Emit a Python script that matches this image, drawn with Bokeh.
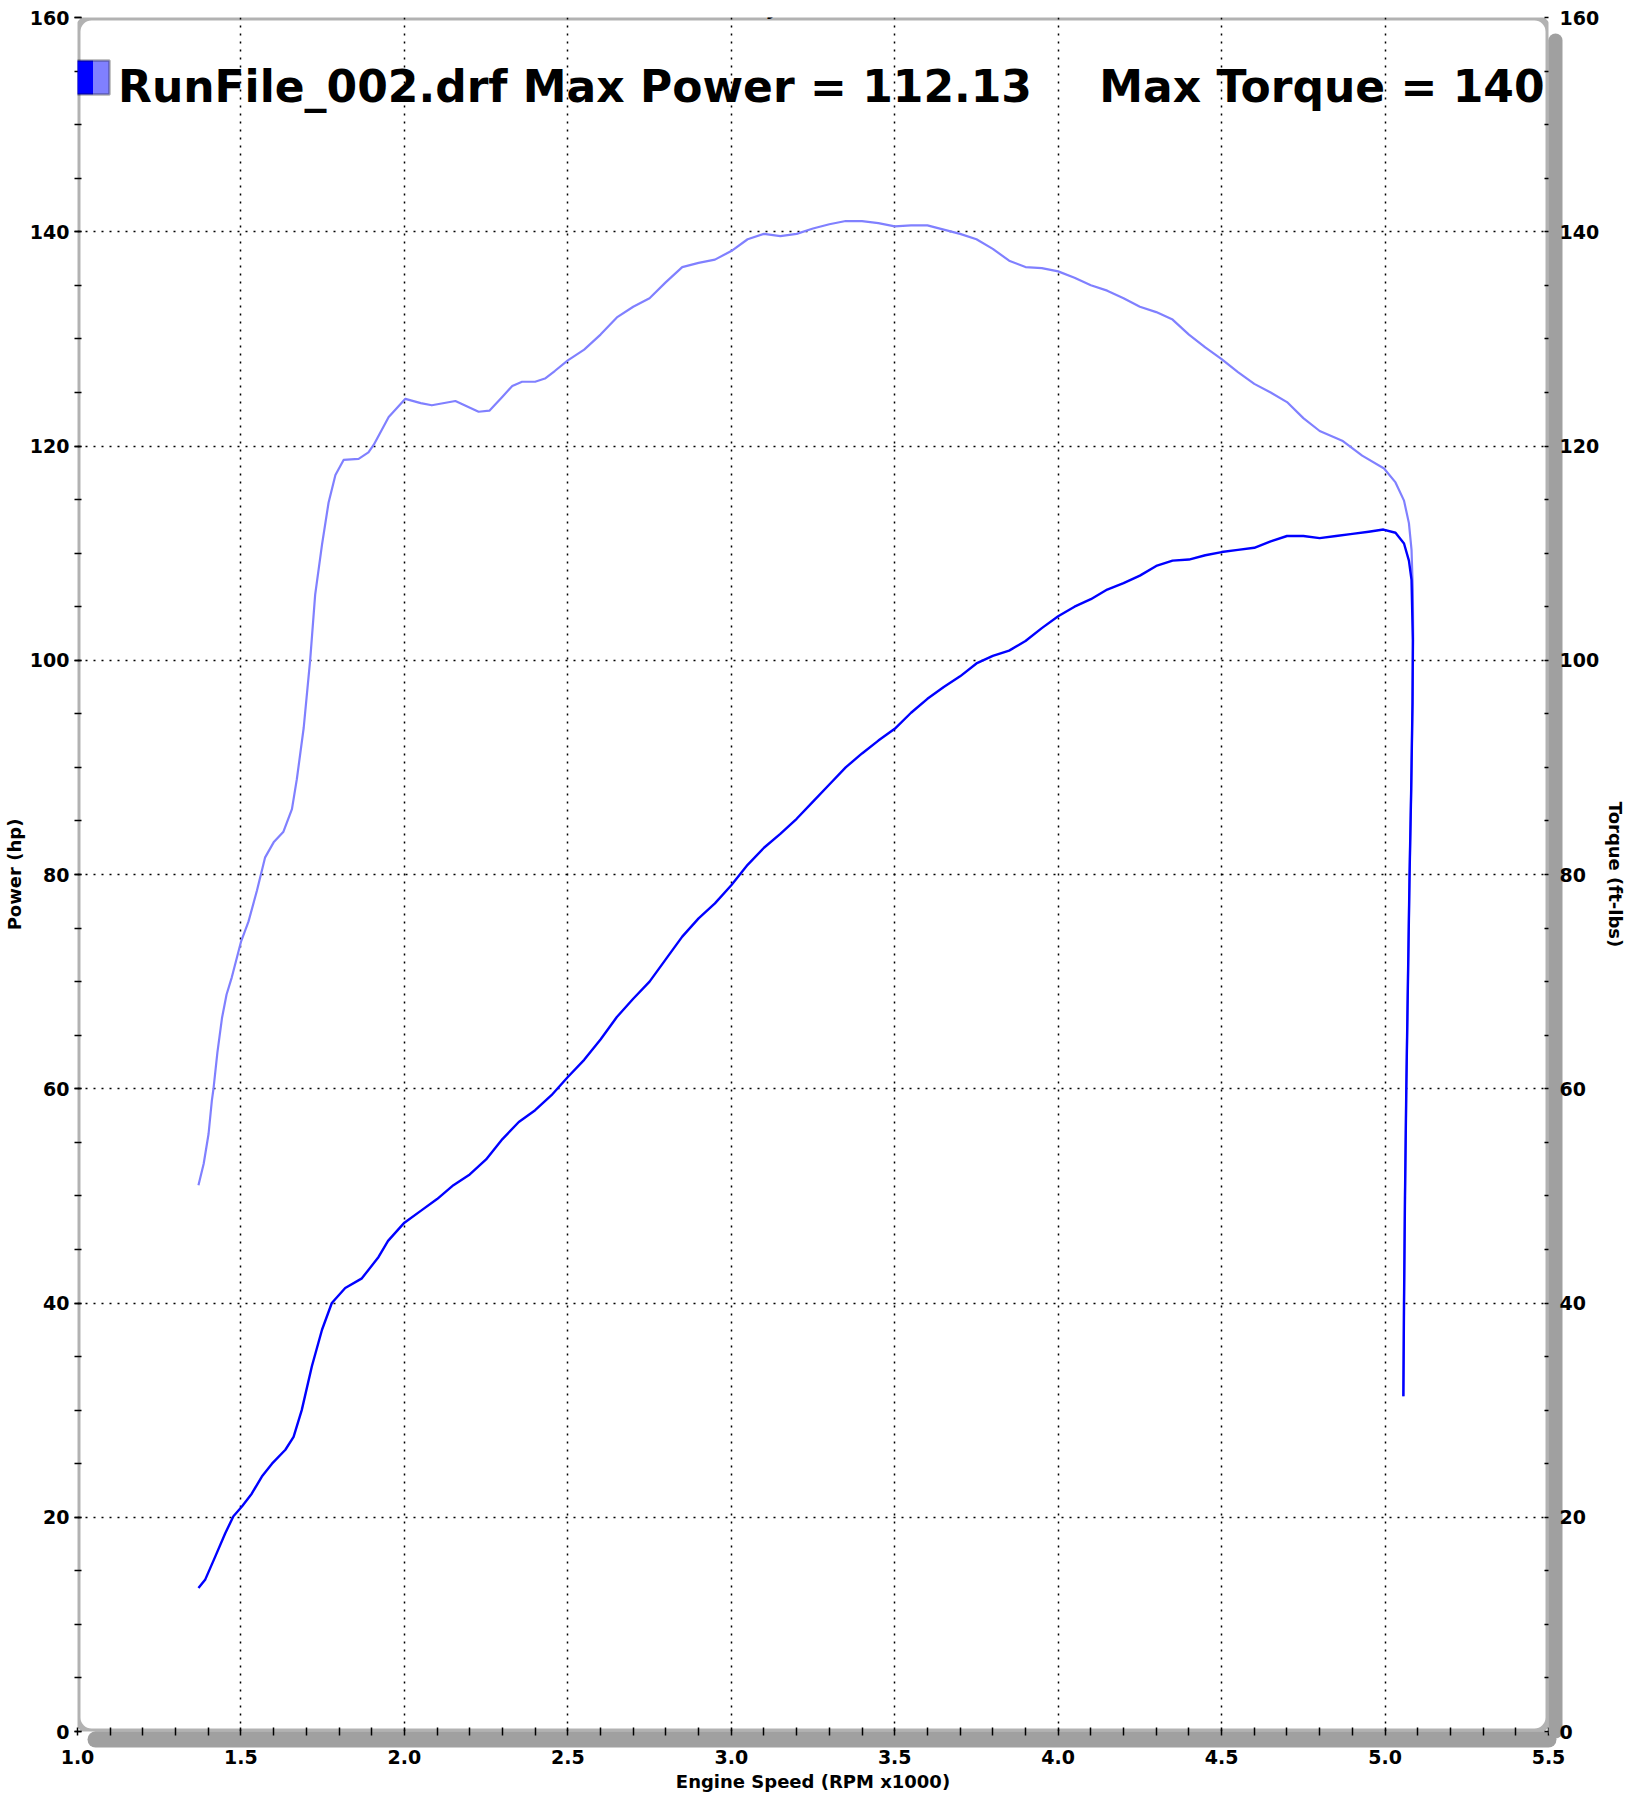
from bokeh.plotting import figure
from bokeh.models import (Range1d, LinearAxis, BoxAnnotation, Label,
                          SingleIntervalTicker, FixedTicker, PrintfTickFormatter,
                          CustomJSTickFormatter)
from bokeh.embed import file_html
from bokeh.resources import INLINE

# ---------------- data ----------------
rpm_power = [1.370, 1.391, 1.421, 1.452, 1.477, 1.503, 1.533, 1.564, 1.595, 1.636,
             1.661, 1.686, 1.717, 1.748, 1.778, 1.819, 1.870, 1.921, 1.950, 2.000,
             2.050, 2.100, 2.150, 2.200, 2.250, 2.300, 2.350, 2.400, 2.450, 2.500,
             2.550, 2.600, 2.650, 2.700, 2.750, 2.800, 2.850, 2.900, 2.950, 3.000,
             3.050, 3.100, 3.150, 3.200, 3.250, 3.300, 3.350, 3.400, 3.450, 3.500,
             3.550, 3.600, 3.650, 3.700, 3.750, 3.800, 3.850, 3.900, 3.950, 4.000,
             4.050, 4.100, 4.150, 4.200, 4.250, 4.300, 4.350, 4.400, 4.450, 4.500,
             4.550, 4.600, 4.650, 4.700, 4.750, 4.800, 4.850, 4.900, 4.950, 4.995,
             5.032, 5.058, 5.073, 5.081, 5.085, 5.084, 5.080, 5.075, 5.070, 5.065,
             5.061, 5.058, 5.056]
power_hp = [13.4, 14.2, 16.3, 18.5, 20.1, 21.0, 22.2, 23.8, 25.0, 26.3,
            27.5, 30.0, 34.1, 37.5, 40.0, 41.4, 42.3, 44.3, 45.8, 47.5,
            48.6, 49.7, 51.0, 52.0, 53.4, 55.3, 56.9, 58.0, 59.4, 61.1,
            62.7, 64.6, 66.7, 68.4, 70.0, 72.1, 74.2, 75.9, 77.3, 79.0,
            80.9, 82.5, 83.8, 85.2, 86.8, 88.4, 90.0, 91.3, 92.5, 93.6,
            95.1, 96.4, 97.5, 98.5, 99.7, 100.4, 100.9, 101.8, 103.0, 104.1,
            105.0, 105.7, 106.6, 107.2, 107.9, 108.8, 109.3, 109.4, 109.8, 110.1,
            110.3, 110.5, 111.1, 111.6, 111.6, 111.4, 111.6, 111.8, 112.0, 112.2,
            111.9, 110.9, 109.3, 107.5, 101.9, 96.0, 88.0, 80.0, 70.0, 60.0,
            50.0, 40.0, 31.3]

rpm_torque = [1.370, 1.386, 1.401, 1.411, 1.416, 1.428, 1.442, 1.456, 1.472, 1.500,
              1.523, 1.549, 1.574, 1.600, 1.630, 1.656, 1.671, 1.692, 1.712, 1.727,
              1.748, 1.768, 1.789, 1.814, 1.860, 1.890, 1.906, 1.952, 2.003, 2.050,
              2.084, 2.156, 2.227, 2.260, 2.300, 2.330, 2.360, 2.400, 2.430, 2.460,
              2.500, 2.550, 2.600, 2.650, 2.700, 2.750, 2.800, 2.850, 2.900, 2.950,
              3.000, 3.050, 3.100, 3.150, 3.200, 3.250, 3.300, 3.350, 3.400, 3.450,
              3.500, 3.550, 3.600, 3.650, 3.700, 3.750, 3.800, 3.850, 3.900, 3.950,
              4.000, 4.050, 4.100, 4.150, 4.200, 4.250, 4.300, 4.350, 4.400, 4.450,
              4.500, 4.550, 4.600, 4.650, 4.700, 4.750, 4.800, 4.869, 4.930, 4.997,
              5.032, 5.058, 5.073, 5.081, 5.085, 5.086, 5.084, 5.080, 5.075, 5.070,
              5.065, 5.061, 5.058, 5.056]
torque_ftlb = [51.0, 53.0, 55.8, 58.9, 60.0, 63.4, 66.6, 68.8, 70.4, 73.7,
               75.6, 78.5, 81.6, 83.0, 84.0, 86.1, 88.9, 93.7, 100.1, 106.1,
               110.8, 114.7, 117.3, 118.7, 118.8, 119.4, 120.1, 122.7, 124.4, 124.0,
               123.8, 124.2, 123.2, 123.3, 124.6, 125.6, 126.0, 126.0, 126.3, 127.0,
               128.0, 129.0, 130.4, 132.0, 133.0, 133.8, 135.3, 136.7, 137.1, 137.4,
               138.2, 139.3, 139.8, 139.6, 139.8, 140.3, 140.7, 141.0, 141.0, 140.8,
               140.5, 140.6, 140.6, 140.2, 139.8, 139.3, 138.4, 137.3, 136.7, 136.6,
               136.3, 135.7, 135.0, 134.5, 133.8, 133.0, 132.5, 131.8, 130.4, 129.2,
               128.1, 126.9, 125.8, 125.0, 124.1, 122.6, 121.4, 120.5, 119.1, 117.9,
               116.6, 114.9, 112.8, 110.3, 106.5, 101.9, 96.0, 88.0, 80.0, 70.0,
               60.0, 50.0, 40.0, 31.3]

x_ticks_step = 0.5
y_ticks_step = 20
title_power = "RunFile_002.drf Max Power = 112.13"
title_torque = "Max Torque = 140"
header_center = "DYNOJET RESEARCH"
header_right = "CF: STD  Smoothing: 5"
x_title = "Engine Speed (RPM x1000)"
y_title = "Power (hp)"
y2_title = "Torque (ft-lbs)"

# ---------------- layout ----------------
FL, FT, FW, FH = 71, 17, 1471, 1714
XR = (1.0, 5.5)
YR = (0, 160)
FONT = "DejaVu Sans"
SHADOW = "#A0A0A0"


def dx(px):
    return XR[0] + (px - FL) / FW * (XR[1] - XR[0])


def dy(off):
    # `off` = pixels below the top edge of the plot box
    return YR[1] - off / FH * (YR[1] - YR[0])


p = figure(frame_width=FW, frame_height=FH,
           min_border_left=FL, min_border_top=FT,
           min_border_right=60, min_border_bottom=50,
           x_range=Range1d(*XR), y_range=Range1d(*YR),
           output_backend="svg", toolbar_location=None)
p.outline_line_color = None
p.background_fill_color = "white"
p.border_fill_color = "white"
p.extra_y_ranges = {"tq": Range1d(*YR)}

xt = SingleIntervalTicker(interval=x_ticks_step, num_minor_ticks=5)
yt = SingleIntervalTicker(interval=y_ticks_step, num_minor_ticks=4)


def style_text(ax):
    ax.major_label_text_font = FONT
    ax.major_label_text_font_style = "bold"
    ax.major_label_text_font_size = "19px"
    ax.major_label_text_color = "black"
    ax.axis_label_text_font = FONT
    ax.axis_label_text_font_style = "bold"
    ax.axis_label_text_font_size = "18px"
    ax.axis_label_text_color = "black"


def spacer(ax, depth, tick_at):
    # axis with one hidden tick: only reserves `depth` pixels next to the frame
    ax.ticker = FixedTicker(ticks=[tick_at])
    ax.formatter = CustomJSTickFormatter(code="return ''")
    ax.axis_line_color = None
    ax.major_tick_in = 0
    ax.major_tick_out = depth
    ax.major_tick_line_color = None
    ax.minor_tick_line_color = None
    ax.major_label_standoff = 0
    ax.major_label_text_font_size = "1px"
    ax.major_label_text_color = None


def strip(ax, width, lo, hi):
    # empty axis whose thick rounded rule is the grey drop shadow
    ax.ticker = FixedTicker(ticks=[])
    ax.bounds = (lo, hi)
    ax.axis_line_color = SHADOW
    ax.axis_line_width = width
    ax.axis_line_cap = "round"
    ax.major_tick_in = 0
    ax.major_tick_out = 0
    ax.major_tick_line_color = None
    ax.minor_tick_line_color = None
    ax.major_label_standoff = 0


# ---- bottom: spacer | shadow strip | labels (+ ticks reaching back to the frame)
ax_x = p.below[0]
ax_x.ticker = xt
ax_x.formatter = PrintfTickFormatter(format="%.1f")
ax_x.axis_line_color = None
ax_x.major_tick_in = 0
ax_x.major_tick_out = 0
ax_x.major_tick_line_color = None
ax_x.minor_tick_in = 12
ax_x.minor_tick_out = -4
ax_x.minor_tick_line_color = "black"
ax_x.minor_tick_line_width = 1.5
ax_x.major_label_standoff = 10
ax_x.axis_label = x_title
ax_x.axis_label_standoff = 4
style_text(ax_x)
sp_b = LinearAxis()
spacer(sp_b, 8, 3.0)
st_b = LinearAxis()
strip(st_b, 16, dx(FL + 18), dx(FL + FW + 6))
p.below = [sp_b, st_b, ax_x]

# ---- left axis
ax_y = p.left[0]
ax_y.ticker = yt
ax_y.axis_line_color = None
ax_y.major_tick_in = 4
ax_y.major_tick_out = 3
ax_y.major_tick_line_color = "black"
ax_y.major_tick_line_width = 1.5
ax_y.minor_tick_in = 4
ax_y.minor_tick_out = 3
ax_y.minor_tick_line_color = "black"
ax_y.minor_tick_line_width = 1.5
ax_y.major_label_standoff = 5
ax_y.axis_label = y_title
ax_y.axis_label_standoff = 2
style_text(ax_y)

# ---- right: spacer | shadow strip | labels (+ inward ticks)
sp_r = LinearAxis(y_range_name="tq")
spacer(sp_r, 7, 80)
st_r = LinearAxis(y_range_name="tq")
strip(st_r, 14, dy(FH + 9), dy(23))
ax_r = LinearAxis(ticker=yt, y_range_name="tq")
ax_r.axis_line_color = None
ax_r.major_tick_in = 0
ax_r.major_tick_out = 0
ax_r.major_tick_line_color = None
ax_r.minor_tick_in = 11
ax_r.minor_tick_out = -7
ax_r.minor_tick_line_color = "black"
ax_r.minor_tick_line_width = 1.5
ax_r.major_label_standoff = 4
ax_r.axis_label = y2_title
ax_r.axis_label_standoff = 3
style_text(ax_r)
p.right = [sp_r, st_r, ax_r]

for g, t in [(p.xgrid[0], xt), (p.ygrid[0], yt)]:
    g.ticker = t
    g.grid_line_color = "black"
    g.grid_line_dash = "2 6"
    g.grid_line_width = 1.5

# ---- curves
p.line(rpm_torque, torque_ftlb, line_color="#8080FF", line_width=2.2,
       line_join="round", y_range_name="tq")
p.line(rpm_power, power_hp, line_color="#0000FF", line_width=2.4,
       line_join="round")

# ---- rounded frame border
p.add_layout(BoxAnnotation(fill_alpha=0, line_color="black", line_width=6,
                           border_radius=14, level="overlay"))

# ---- legend swatch (offsets below the plot-box top)
sw_l, sw_r, sw_t, sw_b = 70, 103, 43, 77
sw_m = (sw_l + sw_r) / 2
p.add_layout(BoxAnnotation(left=dx(sw_l), right=dx(sw_m), top=dy(sw_t),
                           bottom=dy(sw_b), fill_color="#0000FF", fill_alpha=1,
                           line_color=None, level="overlay"))
p.add_layout(BoxAnnotation(left=dx(sw_m), right=dx(sw_r), top=dy(sw_t),
                           bottom=dy(sw_b), fill_color="#8080FF", fill_alpha=1,
                           line_color=None, level="overlay"))
p.add_layout(BoxAnnotation(left=dx(sw_l), right=dx(sw_r), top=dy(sw_t),
                           bottom=dy(sw_b), fill_alpha=0, line_color="black",
                           line_width=2.5, level="overlay"))


def lab(text, px, off, size, align="left"):
    p.add_layout(Label(x=dx(px), y=dy(off), text=text, text_font=FONT,
                       text_font_style="bold", text_font_size=size,
                       text_align=align, text_baseline="alphabetic",
                       text_color="black", level="overlay"))


# ---- run title (kept inside the plot box)
lab(title_power, 111.5, 68.5, "44px")
lab(title_torque, FL + FW - 4, 68.5, "44px", align="right")

# ---- header texts (cut off at the top edge, as in the original)
lab(header_center, 806, -9.5, "18px", align="center")
lab(header_right, 1540, -13.5, "18px", align="right")

open("out.html", "w").write(file_html(p, INLINE))
